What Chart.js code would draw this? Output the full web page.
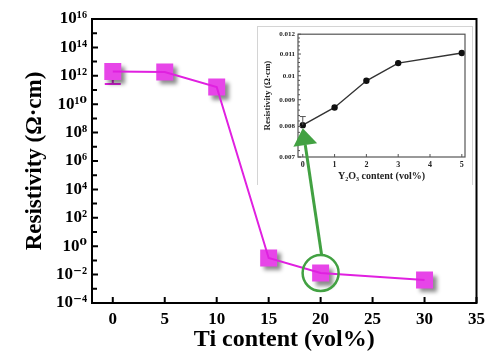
<!DOCTYPE html>
<html>
<head>
<meta charset="utf-8">
<script src="https://cdn.jsdelivr.net/npm/chart.js@4.4.0/dist/chart.umd.min.js"></script>
<style>
  body { margin: 0; background: #fff; }
  #wrap { position: relative; width: 491px; height: 352px; overflow: hidden; }
  #mainChart { position: absolute; left: 0; top: 0; }
  #insetBox { position: absolute; left: 257px; top: 26px; width: 214px; height: 158px;
              background: #fff; border-left: 1px solid #d4d4d4; border-top: 1px solid #d4d4d4; border-right: 1px solid #d4d4d4; }
  #insetChart { display: block; }
  #overlay { position: absolute; left: 0; top: 0; pointer-events: none; }
</style>
</head>
<body>
<div id="wrap">
  <canvas id="mainChart" width="491" height="352"></canvas>
  <div id="insetBox"><canvas id="insetChart" width="214" height="158"></canvas></div>
  <canvas id="overlay" width="491" height="352"></canvas>
</div>
<script>
// main plot data (Ti content vs resistivity, log scale)
const tiContent = [0, 5, 10, 15, 20, 30];
const resistivity = [2.0e12, 1.86e12, 1.62e11, 0.148, 0.0129, 0.00417];
const resistivityErrLow = [2.6e11, null, null, null, null, null];
const mainXTicks = [0, 5, 10, 15, 20, 25, 30, 35];
const mainYTicks = [1e-4, 1e-2, 1, 1e2, 1e4, 1e6, 1e8, 1e10, 1e12, 1e14, 1e16];

// inset data (Y2O3 content vs resistivity)
const y2o3Content = [0, 1, 2, 3, 5];
const insetResistivity = [0.00805, 0.0087, 0.00978, 0.01057, 0.01105];
const insetErrHigh = [0.00836, null, null, null, null];
const insetXTicks = [0, 1, 2, 3, 4, 5];
const insetYTicks = [0.007, 0.008, 0.009, 0.01, 0.011, 0.012];

const SERIF = "'Liberation Serif', 'DejaVu Serif', serif";
const magentaLine = '#e020e0';
const magentaFill = '#e745e8';
const green = '#42a142';

const supMap = {'0':'⁰','1':'¹','2':'²','3':'³','4':'⁴','5':'⁵','6':'⁶','7':'⁷','8':'⁸','9':'⁹','-':'⁻'};
function powLabel(v) {
    const e = Math.round(Math.log10(v));
    return '10' + String(e).split('').map(c => supMap[c]).join('');
}

function points(xs, ys) {
    return xs.map((x, i) => ({x: x, y: ys[i]}));
}

// box around the plot area with inward ticks
function framePlugin(opt) {
    return {
        id: 'frame',
        afterDraw(chart) {
            const ctx = chart.ctx;
            const a = chart.chartArea;
            const xs = chart.scales.x, ys = chart.scales.y;
            ctx.save();
            ctx.strokeStyle = opt.color;
            ctx.lineWidth = opt.width;
            ctx.strokeRect(a.left, a.top, a.right - a.left, a.bottom - a.top);
            ctx.lineWidth = opt.tickWidth;
            ctx.beginPath();
            opt.xMajor.forEach(v => {
                const px = xs.getPixelForValue(v);
                ctx.moveTo(px, a.bottom); ctx.lineTo(px, a.bottom - opt.major);
            });
            opt.yMajor.forEach(v => {
                const py = ys.getPixelForValue(v);
                ctx.moveTo(a.left, py); ctx.lineTo(a.left + opt.major, py);
            });
            opt.yMinor.forEach(v => {
                const py = ys.getPixelForValue(v);
                ctx.moveTo(a.left, py); ctx.lineTo(a.left + opt.minor, py);
            });
            ctx.stroke();
            ctx.restore();
        }
    };
}

// Main chart
const mainMinor = [];
for (let e = -3; e <= 15; e += 2) mainMinor.push(Math.pow(10, e));

const shadowPlugin = {
    id: 'markerShadow',
    beforeDatasetDraw(chart, args) {
        if (args.index !== 1) return;
        const ctx = chart.ctx;
        // error caps under the markers
        ctx.save();
        ctx.strokeStyle = magentaLine;
        ctx.lineWidth = 2;
        resistivityErrLow.forEach((v, i) => {
            if (v == null) return;
            const px = chart.scales.x.getPixelForValue(tiContent[i]);
            const py = chart.scales.y.getPixelForValue(resistivity[i]);
            const pe = chart.scales.y.getPixelForValue(v);
            ctx.beginPath();
            ctx.moveTo(px, py); ctx.lineTo(px, pe);
            ctx.moveTo(px - 8, pe); ctx.lineTo(px + 8, pe);
            ctx.stroke();
        });
        ctx.restore();
        ctx.save();
        ctx.shadowColor = 'rgba(0,0,0,0.45)';
        ctx.shadowBlur = 4;
        ctx.shadowOffsetX = 4;
        ctx.shadowOffsetY = 4;
    },
    afterDatasetDraw(chart, args) {
        if (args.index === 1) chart.ctx.restore();
    }
};

const mainChart = new Chart(document.getElementById('mainChart').getContext('2d'), {
    type: 'line',
    data: {
        datasets: [
            {
                data: points(tiContent, resistivity),
                borderColor: magentaLine,
                borderWidth: 2,
                pointRadius: 0,
                tension: 0
            },
            {
                data: points(tiContent, resistivity),
                showLine: false,
                pointStyle: 'rect',
                pointRadius: 12,
                pointBackgroundColor: magentaFill,
                pointBorderWidth: 0
            }
        ]
    },
    options: {
        responsive: false,
        animation: false,
        layout: { padding: { top: 19, right: 13, left: 0, bottom: 0 } },
        plugins: { legend: { display: false }, tooltip: { enabled: false } },
        scales: {
            x: {
                type: 'linear', min: -2, max: 35,
                afterBuildTicks: s => { s.ticks = mainXTicks.map(v => ({value: v})); },
                afterFit: s => { s.height = 49; },
                grid: { display: false, drawTicks: false },
                border: { display: false },
                ticks: { color: '#000', padding: 6, maxRotation: 0, font: { family: SERIF, size: 17, weight: 'bold' } },
                title: { display: true, text: 'Ti content (vol%)', color: '#000',
                         font: { family: SERIF, size: 24, weight: 'bold' }, padding: { top: 0, bottom: -2 } }
            },
            y: {
                type: 'logarithmic', min: 1e-4, max: 1e16,
                afterBuildTicks: s => { s.ticks = mainYTicks.map(v => ({value: v})); },
                afterFit: s => { s.width = 92; },
                grid: { display: false, drawTicks: false },
                border: { display: false },
                ticks: { color: '#000', padding: 5, callback: v => powLabel(v),
                         font: { family: SERIF, size: 17, weight: 'bold' } },
                title: { display: true, text: 'Resistivity (Ω·cm)', color: '#000',
                         font: { family: SERIF, size: 23, weight: 'bold' }, padding: { top: 21, bottom: 0 } }
            }
        }
    },
    plugins: [shadowPlugin, framePlugin({
        color: '#000', width: 2, tickWidth: 2, major: 6, minor: 5,
        xMajor: mainXTicks, yMajor: mainYTicks, yMinor: mainMinor
    })]
});

// Inset chart
const insetMinor = [];
for (let v = 70; v <= 120; v += 2) {
    if (v % 10 !== 0) insetMinor.push(v / 10000);
}

const insetErrPlugin = {
    id: 'insetErr',
    afterDatasetsDraw(chart) {
        const ctx = chart.ctx;
        ctx.save();
        ctx.strokeStyle = '#555';
        ctx.lineWidth = 1;
        insetErrHigh.forEach((v, i) => {
            if (v == null) return;
            const px = chart.scales.x.getPixelForValue(y2o3Content[i]);
            const py = chart.scales.y.getPixelForValue(insetResistivity[i]);
            const pe = chart.scales.y.getPixelForValue(v);
            ctx.beginPath();
            ctx.moveTo(px, py); ctx.lineTo(px, pe);
            ctx.moveTo(px - 3, pe); ctx.lineTo(px + 3, pe);
            ctx.stroke();
        });
        ctx.restore();
    }
};

const insetChart = new Chart(document.getElementById('insetChart').getContext('2d'), {
    type: 'line',
    data: {
        datasets: [{
            data: points(y2o3Content, insetResistivity),
            borderColor: '#333',
            borderWidth: 1.4,
            pointRadius: 2.5,
            pointBackgroundColor: '#111',
            pointBorderColor: '#111',
            tension: 0
        }]
    },
    options: {
        responsive: false,
        animation: false,
        layout: { padding: { top: 6, right: 7, left: 0, bottom: 0 } },
        plugins: { legend: { display: false }, tooltip: { enabled: false } },
        scales: {
            x: {
                type: 'linear', min: -0.15, max: 5.1,
                afterBuildTicks: s => { s.ticks = insetXTicks.map(v => ({value: v})); },
                afterFit: s => { s.height = 28; },
                grid: { display: false, drawTicks: false },
                border: { display: false },
                ticks: { color: '#222', padding: 3, maxRotation: 0, font: { family: SERIF, size: 8, weight: 'bold' } },
                title: { display: true, text: 'Y₂O₃ content (vol%)', color: '#222',
                         font: { family: SERIF, size: 10, weight: 'bold' }, padding: { top: 0, bottom: 3 } }
            },
            y: {
                type: 'logarithmic', min: 0.007, max: 0.012,
                afterBuildTicks: s => { s.ticks = insetYTicks.map(v => ({value: v})); },
                afterFit: s => { s.width = 40; },
                grid: { display: false, drawTicks: false },
                border: { display: false },
                ticks: { color: '#222', padding: 3, callback: v => String(+v.toFixed(3)),
                         font: { family: SERIF, size: 7, weight: 'bold' } },
                title: { display: true, text: 'Resistivity (Ω·cm)', color: '#222',
                         font: { family: SERIF, size: 9, weight: 'bold' }, padding: { top: 4, bottom: 0 } }
            }
        }
    },
    plugins: [insetErrPlugin, framePlugin({
        color: '#555', width: 1.2, tickWidth: 1, major: 3, minor: 2,
        xMajor: insetXTicks, yMajor: insetYTicks, yMinor: insetMinor
    })]
});

// Green circle and arrow linking the 20 vol% point to the inset
const oc = document.getElementById('overlay').getContext('2d');
const cx = mainChart.scales.x.getPixelForValue(tiContent[4]);
const cy = mainChart.scales.y.getPixelForValue(resistivity[4]);
const insetLeft = 258, insetTop = 27;
const tx = insetLeft + insetChart.scales.x.getPixelForValue(y2o3Content[0]);
const ty = insetTop + insetChart.scales.y.getPixelForValue(insetResistivity[0]) + 3;

oc.strokeStyle = green;
oc.fillStyle = green;
oc.lineWidth = 2.5;
oc.beginPath();
oc.arc(cx, cy, 18, 0, Math.PI * 2);
oc.stroke();

const sx = cx + 1, sy = cy - 18;
const ang = Math.atan2(ty - sy, tx - sx);
const headLen = 17, headHalf = 12;
const bx = tx - headLen * Math.cos(ang), by = ty - headLen * Math.sin(ang);
oc.lineWidth = 3;
oc.beginPath();
oc.moveTo(sx, sy);
oc.lineTo(bx, by);
oc.stroke();
oc.beginPath();
oc.moveTo(tx, ty);
oc.lineTo(bx + headHalf * Math.sin(ang), by - headHalf * Math.cos(ang));
oc.lineTo(bx - headHalf * Math.sin(ang), by + headHalf * Math.cos(ang));
oc.closePath();
oc.fill();
</script>
</body>
</html>
